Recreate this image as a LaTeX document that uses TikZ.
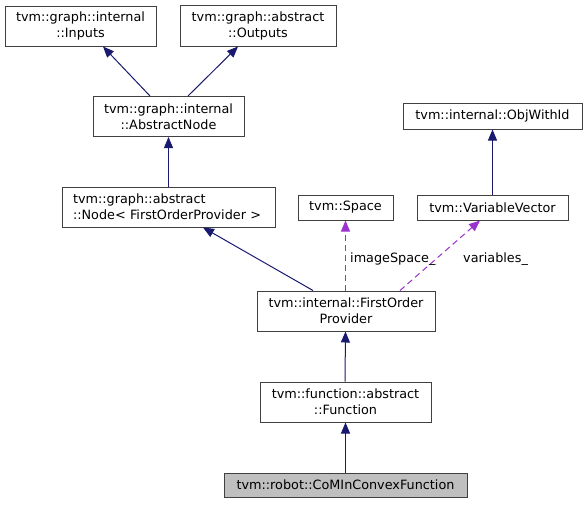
\documentclass[tikz,border=0pt]{standalone}
\usepackage{fontspec}
\setmainfont{DejaVu Sans}
\usetikzlibrary{arrows.meta,calc}
\definecolor{edgeblue}{HTML}{191970}
\definecolor{edgepurple}{HTML}{9A32CD}
\definecolor{boxline}{HTML}{404040}
\definecolor{boxgray}{HTML}{BFBFBF}
\tikzset{
  cls/.style={draw=boxline, line width=1pt, fill=white, inner sep=0pt, align=center,
    font=\fontsize{12.8}{16}\selectfont},
  inh/.style={draw=edgeblue, line width=1pt, -{Triangle[length=11pt,width=9pt]}},
  use/.style={draw=edgepurple, line width=1pt, dash pattern=on 6pt off 4pt,
    -{Triangle[length=11pt,width=9pt]}},
  lbl/.style={anchor=west, inner sep=0pt, font=\fontsize{12.8}{16}\selectfont}
}
\begin{document}
\begin{tikzpicture}[x=1pt,y=-1pt]
\useasboundingbox (0,0) rectangle (587,504);
\node[cls, minimum width=151pt, minimum height=40pt] (inp) at (80.5,26) {tvm::graph::internal\\::Inputs};
\node[cls, minimum width=156pt, minimum height=41pt] (out) at (258,25.5) {tvm::graph::abstract\\::Outputs};
\node[cls, minimum width=151pt, minimum height=40pt] (an) at (168.5,116.5) {tvm::graph::internal\\::AbstractNode};
\node[cls, minimum width=213pt, minimum height=40pt, text width=191pt, align=left] (nd) at (168.5,207) {tvm::graph::abstract\\::Node< FirstOrderProvider >};
\node[cls, minimum width=179pt, minimum height=26pt] (obj) at (492.5,116) {tvm::internal::ObjWithId};
\node[cls, minimum width=95pt, minimum height=25pt] (sp) at (345.5,207.5) {tvm::Space};
\node[cls, minimum width=151pt, minimum height=25pt] (vv) at (492.5,207.5) {tvm::VariableVector};
\node[cls, minimum width=178pt, minimum height=40pt] (fop) at (346,311) {tvm::internal::FirstOrder\\Provider};
\node[cls, minimum width=171pt, minimum height=40pt] (fn) at (345.5,402) {tvm::function::abstract\\::Function};
\node[cls, fill=boxgray, minimum width=243pt, minimum height=24pt] (com) at (345.5,485) {tvm::robot::CoMInConvexFunction};

\draw[inh] ([xshift=-18.5pt]an.north) -- ([xshift=22.5pt]inp.south);
\draw[inh] ([xshift=19.5pt]an.north) -- ([xshift=-20pt]out.south);
\draw[inh] (nd.north) -- (an.south);
\draw[inh] ([xshift=-33pt]fop.north) -- ([xshift=34.5pt]nd.south);
\draw[use] ([xshift=-0.5pt]fop.north) -- (sp.south);
\draw[use] ([xshift=54pt]fop.north) -- ([xshift=-12.5pt]vv.south);
\draw[inh] (vv.north) -- (obj.south);
\draw[inh] ([xshift=-0.5pt]fn.north) -- ([xshift=-0.5pt]fop.south);
\draw[inh] (com.north) -- (fn.south);

\node[lbl] (l1) at (350,259) {imageSpace\_};
\node[lbl] (l2) at (463,259) {variables\_};
\end{tikzpicture}
\end{document}
